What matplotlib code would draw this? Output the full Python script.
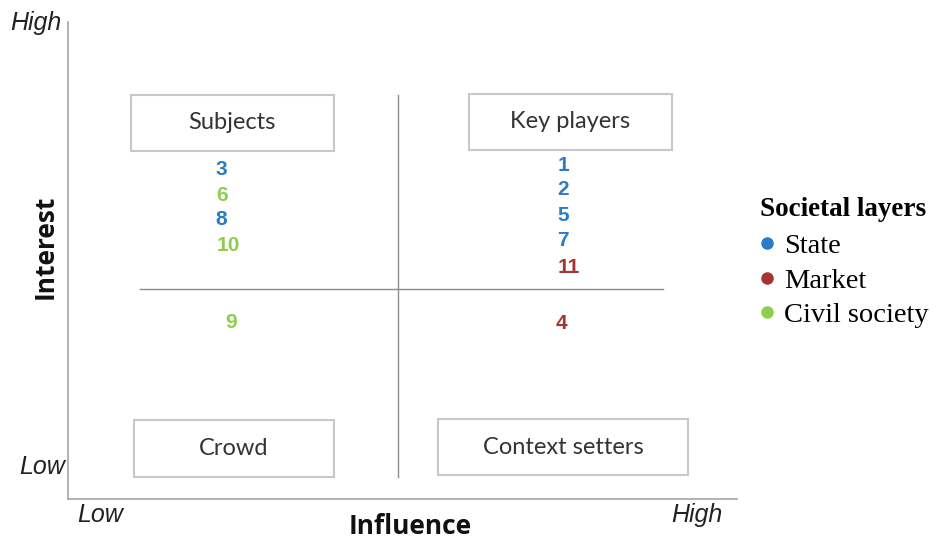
import matplotlib
matplotlib.use("Agg")
import matplotlib.pyplot as plt
from matplotlib.patches import Rectangle
from matplotlib.lines import Line2D

# ---- data ----
ids       = ["3", "6", "8", "10", "9", "1", "2", "5", "7", "11", "4"]
influence = [2.29, 2.30, 2.29, 2.39, 2.44, 7.40, 7.40, 7.40, 7.40, 7.49, 7.37]
interest  = [6.90, 6.37, 5.85, 5.32, 3.69, 7.00, 6.48, 5.95, 5.41, 4.86, 3.67]
layer     = ["State", "Civil society", "State", "Civil society", "Civil society",
             "State", "State", "State", "State", "Market", "Market"]
layers = ["State", "Market", "Civil society"]
layer_colors = {"State": "#2a7bc8", "Market": "#a63434", "Civil society": "#8dcf4c"}

quadrants = ["Subjects", "Key players", "Crowd", "Context setters"]
# box: x0, x1, y0, y1 in data units
quad_boxes = [(0.94, 3.97, 7.30, 8.47), (5.99, 9.03, 7.32, 8.49),
              (0.99, 3.97, 0.46, 1.66), (5.53, 9.27, 0.50, 1.68)]

fig = plt.figure(figsize=(9.44, 5.39), dpi=100)
ax = fig.add_axes([68/944, 40/539, (737-68)/944, (499-22)/539])
ax.set_xlim(0, 10)
ax.set_ylim(0, 10)
for s in ["top", "right"]:
    ax.spines[s].set_visible(False)
for s in ["left", "bottom"]:
    ax.spines[s].set_color("#a6a6a6")
    ax.spines[s].set_linewidth(1.2)
ax.set_xticks([])
ax.set_yticks([])

# dividing lines
ax.plot([4.93, 4.93], [0.46, 8.47], color="#8c8c8c", lw=1.0)
ax.plot([1.08, 8.90], [4.41, 4.41], color="#8c8c8c", lw=1.0)

# quadrant boxes
for name, (x0, x1, y0, y1) in zip(quadrants, quad_boxes):
    ax.add_patch(Rectangle((x0, y0), x1 - x0, y1 - y0, fill=False,
                           edgecolor="#c8c8c8", lw=1.5))
    ax.text((x0 + x1) / 2, (y0 + y1) / 2, name, ha="center", va="center",
            fontsize=17, color="#333333", family="Lato")

# stakeholder numbers
for i, x, y, l in zip(ids, influence, interest, layer):
    ax.text(x, y, i, ha="center", va="center", fontsize=15, fontweight="bold",
            color=layer_colors[l], family="Liberation Sans")

# axis end labels
lab = dict(fontsize=18, style="italic", color="#222222", family="Liberation Sans")
fig.text(36/944, 1 - 23/539, "High", ha="center", va="center", **lab)
fig.text(42/944, 1 - 467/539, "Low", ha="center", va="center", **lab)
fig.text(100/944, 1 - 515/539, "Low", ha="center", va="center", **lab)
fig.text(697/944, 1 - 515/539, "High", ha="center", va="center", **lab)

fig.text(45/944, 1 - 247/539, "Interest", rotation=90, ha="center", va="center",
         fontsize=19, fontweight="bold", color="#111111", family="Open Sans")
fig.text(410/944, 1 - 526/539, "Influence", ha="center", va="center",
         fontsize=19, fontweight="bold", color="#111111", family="Open Sans")

# legend
handles = [Line2D([], [], marker="o", linestyle="none", markersize=8,
                  markerfacecolor=layer_colors[l], markeredgecolor=layer_colors[l])
           for l in layers]
leg = fig.legend(handles, layers, loc="upper left",
                 bbox_to_anchor=(760/944, 1 - 197/539), frameon=False,
                 title="Societal layers",
                 prop={"family": "Liberation Serif", "size": 20.5},
                 handletextpad=0.35, labelspacing=0.3, handlelength=0.5,
                 borderaxespad=0, borderpad=0)
leg.get_title().set_fontfamily("Liberation Serif")
leg.get_title().set_fontweight("bold")
leg.get_title().set_fontsize(19.5)
leg._legend_box.align = "left"
leg._legend_box.sep = 8

fig.savefig("out.png", dpi=100, facecolor="white")
